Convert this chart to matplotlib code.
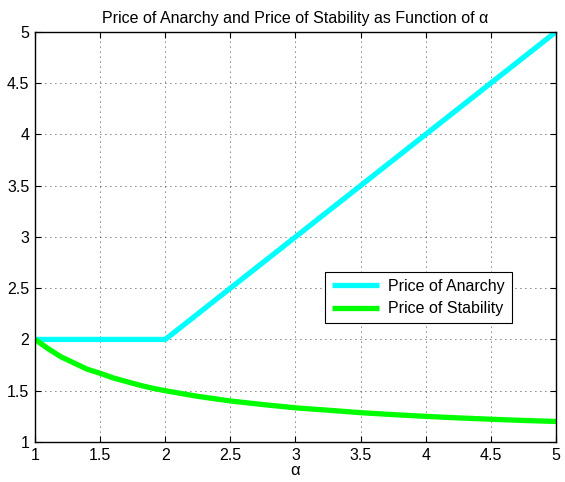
import matplotlib
matplotlib.use("Agg")
import matplotlib.pyplot as plt

plt.rcParams['font.family'] = ['Liberation Sans', 'DejaVu Sans']

# values
alpha_poa = [1.0, 2.0, 5.0]
poa = [2.0, 2.0, 5.0]

alpha_pos = [1.0, 1.1, 1.2, 1.3, 1.4, 1.5, 1.6, 1.7, 1.8, 1.9, 2.0, 2.25, 2.5, 2.75,
             3.0, 3.25, 3.5, 3.75, 4.0, 4.25, 4.5, 4.75, 5.0]
pos = [2.0, 1.91, 1.83, 1.77, 1.71, 1.67, 1.625, 1.59, 1.555, 1.525, 1.50, 1.445, 1.40, 1.365,
       1.333, 1.31, 1.286, 1.267, 1.25, 1.235, 1.222, 1.21, 1.20]

xticks = [1, 1.5, 2, 2.5, 3, 3.5, 4, 4.5, 5]
yticks = [1, 1.5, 2, 2.5, 3, 3.5, 4, 4.5, 5]

fig = plt.figure(figsize=(5.65, 4.82), dpi=100)
ax = fig.add_axes([0.062, 0.083, 0.922, 0.851])

ax.plot(alpha_poa, poa, color='#00ffff', lw=3.8, label='Price of Anarchy', solid_capstyle='butt')
ax.plot(alpha_pos, pos, color='#00ff00', lw=3.8, label='Price of Stability', solid_capstyle='butt')

ax.set_xlim(1, 5)
ax.set_ylim(1, 5)
ax.set_xticks(xticks)
ax.set_yticks(yticks)
ax.set_xticklabels(['1', '1.5', '2', '2.5', '3', '3.5', '4', '4.5', '5'])
ax.set_yticklabels(['1', '1.5', '2', '2.5', '3', '3.5', '4', '4.5', '5'])
ax.tick_params(direction='in', top=True, right=True, labelsize=11.5, length=4, width=0.8, pad=4)
ax.grid(True, color='black', linestyle=(0, (1, 5)), linewidth=0.6)
for s in ax.spines.values():
    s.set_linewidth(1.0)

ax.set_xlabel('α', fontsize=12, labelpad=0)
ax.set_title('Price of Anarchy and Price of Stability as Function of α', fontsize=11.5, pad=6)

leg = ax.legend(loc='upper right', bbox_to_anchor=(0.916, 0.415), fontsize=11.5,
                frameon=True, fancybox=False, edgecolor='black', framealpha=1,
                handlelength=2.9, borderpad=0.45, labelspacing=0.45, borderaxespad=0,
                handletextpad=0.6)
leg.get_frame().set_linewidth(0.8)

fig.savefig('out.png', dpi=100)
